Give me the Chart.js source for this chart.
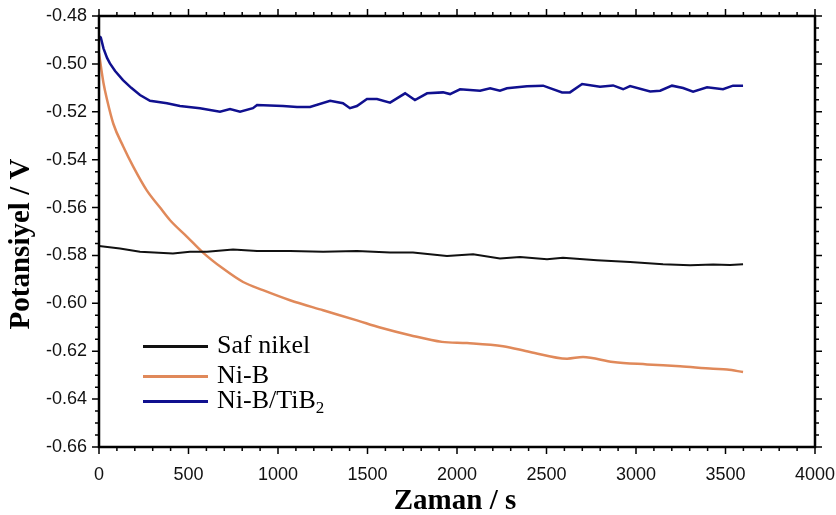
<!DOCTYPE html>
<html>
<head>
<meta charset="utf-8">
<script src="https://cdn.jsdelivr.net/npm/chart.js@4.4.1/dist/chart.umd.min.js"></script>
<style>
  html, body { margin: 0; padding: 0; background: #fff; }
  #wrap { width: 836px; height: 515px; }
</style>
</head>
<body>
<div id="wrap"><canvas id="potChart" width="836" height="515"></canvas></div>
<script>
// Saf nikel (black)
const safTime = [0, 117, 229, 413, 508, 603, 749, 883, 1067, 1252, 1441, 1626, 1754, 1944, 2090, 2240, 2352, 2503, 2592, 2782, 2967, 3151, 3302, 3431, 3525, 3598];
const safPot = [-0.5761, -0.5771, -0.5785, -0.5792, -0.5785, -0.5785, -0.5775, -0.5781, -0.5781, -0.5785, -0.5781, -0.5788, -0.5788, -0.5802, -0.5795, -0.5813, -0.5806, -0.5816, -0.5810, -0.5820, -0.5827, -0.5837, -0.5841, -0.5838, -0.5840, -0.5837];

// Ni-B (orange)
const nibTime = [0, 25, 45, 80, 136, 192, 266, 341, 397, 492, 581, 693, 805, 916, 1067, 1252, 1441, 1570, 1738, 1916, 2056, 2257, 2408, 2615, 2704, 2872, 3062, 3246, 3431, 3509, 3598];
const nibPot = [-0.4955, -0.5080, -0.5150, -0.5250, -0.5346, -0.5430, -0.5527, -0.5600, -0.5653, -0.5722, -0.5788, -0.5855, -0.5911, -0.5945, -0.5987, -0.6029, -0.6071, -0.6101, -0.6133, -0.6161, -0.6166, -0.6179, -0.6203, -0.6231, -0.6224, -0.6245, -0.6255, -0.6263, -0.6273, -0.6276, -0.6287];

// Ni-B/TiB2 (blue)
const tibTime = [0, 10, 25, 45, 61, 90, 134, 180, 229, 285, 380, 452, 564, 676, 732, 788, 860, 883, 1028, 1106, 1179, 1291, 1363, 1402, 1441, 1497, 1553, 1626, 1710, 1765, 1833, 1922, 1961, 2017, 2129, 2185, 2240, 2279, 2391, 2481, 2587, 2631, 2699, 2799, 2872, 2928, 2967, 3079, 3135, 3201, 3263, 3319, 3397, 3486, 3542, 3598];
const tibPot = [-0.4884, -0.4890, -0.4935, -0.4975, -0.4998, -0.5030, -0.5068, -0.5100, -0.5130, -0.5154, -0.5164, -0.5176, -0.5185, -0.5200, -0.5189, -0.5200, -0.5185, -0.5172, -0.5176, -0.5180, -0.5180, -0.5154, -0.5164, -0.5185, -0.5176, -0.5147, -0.5147, -0.5162, -0.5123, -0.5151, -0.5123, -0.5119, -0.5126, -0.5106, -0.5112, -0.5102, -0.5112, -0.5102, -0.5093, -0.5091, -0.5119, -0.5119, -0.5084, -0.5095, -0.5090, -0.5106, -0.5093, -0.5115, -0.5112, -0.5091, -0.5101, -0.5116, -0.5098, -0.5106, -0.5091, -0.5091];

const seriesLabels = ['Saf nikel', 'Ni-B', 'Ni-B/TiB₂'];
const xTitle = 'Zaman / s';
const yTitle = 'Potansiyel / V';

function toPoints(xs, ys) {
    return xs.map((x, i) => ({ x: x, y: ys[i] }));
}

// frame, outward ticks (major + minor), axis titles, legend
const framePlugin = {
    id: 'frame',
    afterDraw(chart) {
        const ctx = chart.ctx;
        const a = chart.chartArea;
        const xs = chart.scales.x, ys = chart.scales.y;
        ctx.save();
        ctx.strokeStyle = '#000';
        ctx.lineWidth = 2.5;
        ctx.strokeRect(a.left, a.top, a.right - a.left, a.bottom - a.top);

        ctx.lineWidth = 1.5;
        ctx.beginPath();
        for (let v = 0; v <= 4000; v += 100) {
            const px = xs.getPixelForValue(v);
            const len = v % 500 === 0 ? 7 : 4;
            ctx.moveTo(px, a.bottom); ctx.lineTo(px, a.bottom + len);
            ctx.moveTo(px, a.top); ctx.lineTo(px, a.top - len);
        }
        for (let i = 0; i <= 36; i++) {
            const v = -0.66 + i * 0.005;
            const py = ys.getPixelForValue(v);
            const len = i % 4 === 0 ? 7 : 4;
            ctx.moveTo(a.left, py); ctx.lineTo(a.left - len, py);
            ctx.moveTo(a.right, py); ctx.lineTo(a.right + len, py);
        }
        ctx.stroke();

        // axis titles
        ctx.fillStyle = '#000';
        ctx.font = 'bold 29px "Liberation Serif", "Times New Roman", serif';
        ctx.textAlign = 'center';
        ctx.textBaseline = 'middle';
        ctx.fillText(xTitle, 455, 502);
        ctx.save();
        ctx.translate(22, 244);
        ctx.rotate(-Math.PI / 2);
        ctx.fillText(yTitle, 0, 0);
        ctx.restore();

        // legend
        const rows = [346.5, 376.5, 401.5];
        ctx.textAlign = 'left';
        ctx.textBaseline = 'middle';
        chart.data.datasets.forEach((ds, i) => {
            const y = rows[i];
            ctx.strokeStyle = ds.borderColor;
            ctx.lineWidth = 3;
            ctx.beginPath();
            ctx.moveTo(143, y); ctx.lineTo(208, y);
            ctx.stroke();
            ctx.font = '26px "Liberation Serif", "Times New Roman", serif';
            const lbl = ds.label;
            if (lbl.endsWith('₂')) {
                const main = lbl.slice(0, -1);
                ctx.fillText(main, 217, y);
                const w = ctx.measureText(main).width;
                ctx.font = '17px "Liberation Serif", "Times New Roman", serif';
                ctx.fillText('2', 217 + w, y + 7);
            } else {
                ctx.fillText(lbl, 217, y);
            }
        });
        ctx.restore();
    }
};

new Chart(document.getElementById('potChart').getContext('2d'), {
    type: 'line',
    data: {
        datasets: [{
            label: seriesLabels[0],
            data: toPoints(safTime, safPot),
            borderColor: '#111111',
            borderWidth: 2,
            pointRadius: 0,
            tension: 0
        }, {
            label: seriesLabels[1],
            data: toPoints(nibTime, nibPot),
            borderColor: '#e0895a',
            borderWidth: 2.5,
            pointRadius: 0,
            cubicInterpolationMode: 'monotone'
        }, {
            label: seriesLabels[2],
            data: toPoints(tibTime, tibPot),
            borderColor: '#10108f',
            borderWidth: 2.5,
            pointRadius: 0,
            tension: 0
        }]
    },
    options: {
        responsive: false,
        animation: false,
        layout: { padding: { top: 16, right: 21, bottom: 0, left: 0 } },
        plugins: {
            legend: { display: false },
            tooltip: { enabled: false }
        },
        scales: {
            x: {
                type: 'linear',
                min: 0,
                max: 4000,
                afterFit(scale) {
                    scale.height = 68;
                    scale.paddingLeft = 0;
                    scale.paddingRight = 0;
                },
                grid: { display: false, drawTicks: false },
                border: { display: false },
                ticks: {
                    stepSize: 500,
                    padding: 17,
                    color: '#111',
                    font: { family: '"Liberation Sans", Arial, sans-serif', size: 18 },
                    maxRotation: 0,
                    callback: v => String(v)
                }
            },
            y: {
                type: 'linear',
                min: -0.66,
                max: -0.48,
                afterFit(scale) {
                    scale.width = 99;
                    scale.paddingTop = 0;
                    scale.paddingBottom = 0;
                },
                grid: { display: false, drawTicks: false },
                border: { display: false },
                ticks: {
                    stepSize: 0.02,
                    padding: 12,
                    color: '#111',
                    font: { family: '"Liberation Sans", Arial, sans-serif', size: 18 },
                    callback: v => v.toFixed(2)
                }
            }
        }
    },
    plugins: [framePlugin]
});
</script>
</body>
</html>
